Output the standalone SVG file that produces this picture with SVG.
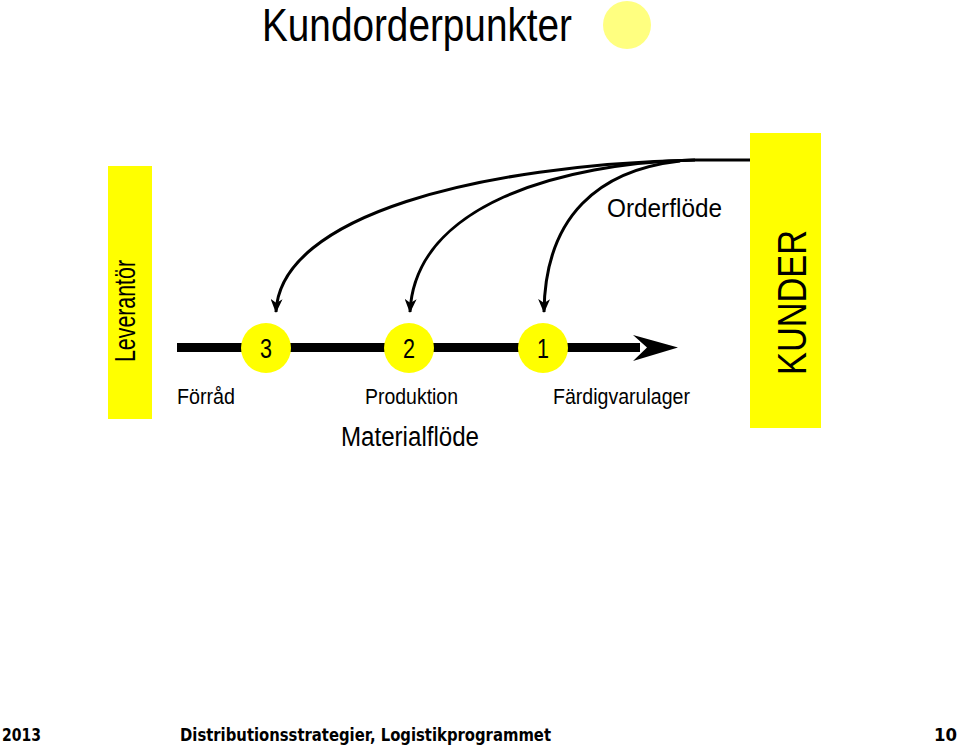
<svg xmlns="http://www.w3.org/2000/svg" width="959" height="745" viewBox="0 0 959 745">
<defs>
<style>
.t{font-family:"Liberation Sans Narrow","Liberation Sans",Arial,sans-serif;fill:#000}
.f{font-family:"DejaVu Sans",Verdana,sans-serif;font-weight:bold;fill:#000;font-size:17px}
.c{fill:none;stroke:#000;stroke-width:3}
.node{fill:#FFFF00}
</style>
<marker id="ah" viewBox="0 0 14 12" refX="13" refY="6" markerWidth="14" markerHeight="12" markerUnits="userSpaceOnUse" orient="auto">
<path d="M0,0 L14,6 L0,12 L4,6 Z" fill="#000"/>
</marker>
</defs>
<rect width="959" height="745" fill="#fff"/>
<g id="title">
<text class="t" x="262" y="41" font-size="46" textLength="310" lengthAdjust="spacingAndGlyphs">Kundorderpunkter</text>
<circle cx="627" cy="25" r="24" fill="#FFFF80"/>
</g>
<g id="leverantor">
<rect class="node" x="108" y="166" width="44" height="253"/>
<text class="t" transform="translate(135,362) rotate(-90)" font-size="29" textLength="102" lengthAdjust="spacingAndGlyphs">Leverantör</text>
</g>
<g id="kunder">
<rect class="node" x="750" y="133" width="71" height="295"/>
<text class="t" transform="translate(806,375) rotate(-90)" font-size="41" textLength="145" lengthAdjust="spacingAndGlyphs">KUNDER</text>
</g>
<g id="connectors">
<line x1="177" y1="347.5" x2="640" y2="347.5" stroke="#000" stroke-width="9"/>
<path d="M633,335 L678,347.5 L633,361 L647,347.5 Z" fill="#000"/>
<path class="c" d="M750,160 L695,160" stroke-width="3"/>
<path class="c" d="M695,160 C480,165 280,215 276,312" marker-end="url(#ah)"/>
<path class="c" d="M695,160 C560,163 415,205 410,312" marker-end="url(#ah)"/>
<path class="c" d="M680,161 C600,170 545,215 544,312" marker-end="url(#ah)"/>
</g>
<g id="n3">
<circle class="node" cx="266" cy="348" r="25"/>
<text class="t" x="260" y="358" font-size="28" textLength="12" lengthAdjust="spacingAndGlyphs">3</text>
</g>
<g id="n2">
<circle class="node" cx="409" cy="348" r="25"/>
<text class="t" x="403" y="358" font-size="28" textLength="12" lengthAdjust="spacingAndGlyphs">2</text>
</g>
<g id="n1">
<circle class="node" cx="543" cy="348" r="25"/>
<text class="t" x="537" y="358" font-size="28" textLength="12" lengthAdjust="spacingAndGlyphs">1</text>
</g>
<g id="labels">
<text class="t" x="607" y="217" font-size="26" textLength="115" lengthAdjust="spacingAndGlyphs">Orderflöde</text>
<text class="t" x="177" y="404" font-size="22" textLength="58" lengthAdjust="spacingAndGlyphs">Förråd</text>
<text class="t" x="365" y="404" font-size="22" textLength="93" lengthAdjust="spacingAndGlyphs">Produktion</text>
<text class="t" x="553" y="404" font-size="22" textLength="137" lengthAdjust="spacingAndGlyphs">Färdigvarulager</text>
<text class="t" x="341" y="446" font-size="27" textLength="138" lengthAdjust="spacingAndGlyphs">Materialflöde</text>
</g>
<g id="footer">
<text class="f" x="2" y="741" textLength="39" lengthAdjust="spacingAndGlyphs">2013</text>
<text class="f" x="180" y="741" textLength="371" lengthAdjust="spacingAndGlyphs">Distributionsstrategier, Logistikprogrammet</text>
<text class="f" x="934" y="741" textLength="23" lengthAdjust="spacingAndGlyphs">10</text>
</g>
</svg>
